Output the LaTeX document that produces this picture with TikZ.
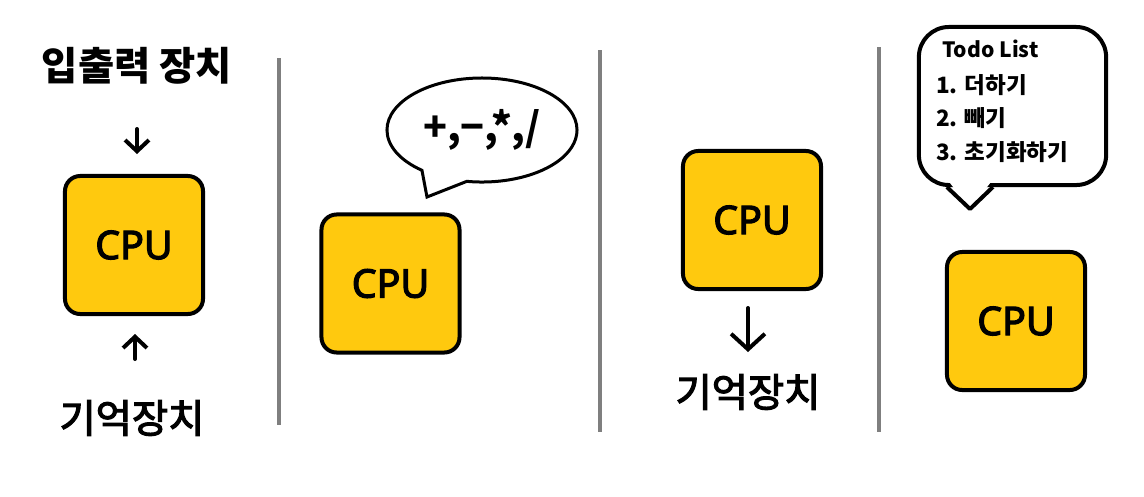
\documentclass[tikz,border=0pt]{standalone}
\usepackage{fontspec}
\setmainfont{Noto Sans CJK KR}
\newfontfamily\latinfont[FakeBold=3]{Noto Sans}
\newfontfamily\krmed[FakeBold=3]{Noto Sans CJK KR}
\usetikzlibrary{arrows.meta,shapes.callouts}
\definecolor{cpuyellow}{HTML}{FFC90E}
\definecolor{sepgray}{HTML}{7F7F7F}
\begin{document}
\begin{tikzpicture}[x=0.025cm, y=-0.025cm,
  cpu/.style={draw,line width=0.1cm,fill=cpuyellow,rounded corners=0.38cm,minimum width=3.45cm,minimum height=3.45cm,font=\latinfont\fontsize{28}{30}\selectfont},
  lbl/.style={inner sep=0pt,font=\krmed\fontsize{28}{32}\selectfont},
  lblb/.style={inner sep=0pt,font=\fontsize{28}{32}\selectfont\bfseries},
  todo/.style={anchor=base west,inner sep=0pt,font=\fontsize{16}{18}\selectfont\bfseries},
  sep/.style={draw=sepgray,line width=0.1cm},
  arr/.style={-{Straight Barb[length=8pt,width=17pt]},line width=0.1cm,line cap=round},
  bigarr/.style={-{Straight Barb[length=11pt,width=24pt]},line width=0.1cm,line cap=round}]
\useasboundingbox (0,0) rectangle (1144,496);
% panel 1: I/O and memory feed the CPU
\node[lblb] (io) at (137,66) {입출력 장치};
\node[cpu] (cpuA) at (134,245) {CPU};
\node[lbl] (memA) at (132,418) {기억장치};
\coordinate (ioout) at (137,129);
\coordinate (ioin) at (137,154);
\coordinate (memout) at (135,359);
\coordinate (memin) at (135,334);
\draw[arr] (ioout) -- (ioin);
\draw[arr] (memout) -- (memin);
% separators
\draw[sep] (279,58) -- (279,425);
\draw[sep] (600,50) -- (600,432);
\draw[sep] (879,47) -- (879,432);
% panel 2: the CPU computes
\node[cpu] (cpuB) at (390.5,283.5) {CPU};
\coordinate (opstip) at (427,197);
\node[ellipse callout,draw,fill=white,line width=0.075cm,minimum width=4.75cm,minimum height=2.6cm,inner sep=2pt,
  callout absolute pointer={(opstip)},callout pointer arc=30,font=\fontsize{28}{30}\selectfont\bfseries] (opsbub) at (482,130) {+,−,*,/};
% panel 3: the CPU writes to memory
\node[cpu] (cpuC) at (752,220) {CPU};
\node[lbl] (memB) at (748,392) {기억장치};
\coordinate (cpuCout) at (748,308);
\coordinate (memBin) at (748,352);
\draw[bigarr] (cpuCout) -- (memBin);
% panel 4: the CPU keeps a list of jobs
\node[cpu] (cpuD) at (1016,321) {CPU};
\node[draw,fill=white,line width=0.1cm,rounded corners=0.75cm,minimum width=4.68cm,minimum height=3.95cm] (todobox) at (1012.5,106) {};
\coordinate (todotip) at (970,209);
\fill[white] ([xshift=-1.6cm,yshift=0.15cm]todobox.south) -- (todotip) -- ([xshift=-0.52cm,yshift=0.15cm]todobox.south) -- cycle;
\draw[line width=0.1cm,line join=round] ([xshift=-1.64cm]todobox.south) -- (todotip) -- ([xshift=-0.49cm]todobox.south);
\node[todo,font=\fontsize{15}{18}\selectfont\bfseries] (todoT) at (942,57) {Todo List};
\node[todo] (todoA) at (936,93) {1. 더하기};
\node[todo] (todoB) at (936,126) {2. 빼기};
\node[todo] (todoC) at (936,160) {3. 초기화하기};
\end{tikzpicture}
\end{document}
